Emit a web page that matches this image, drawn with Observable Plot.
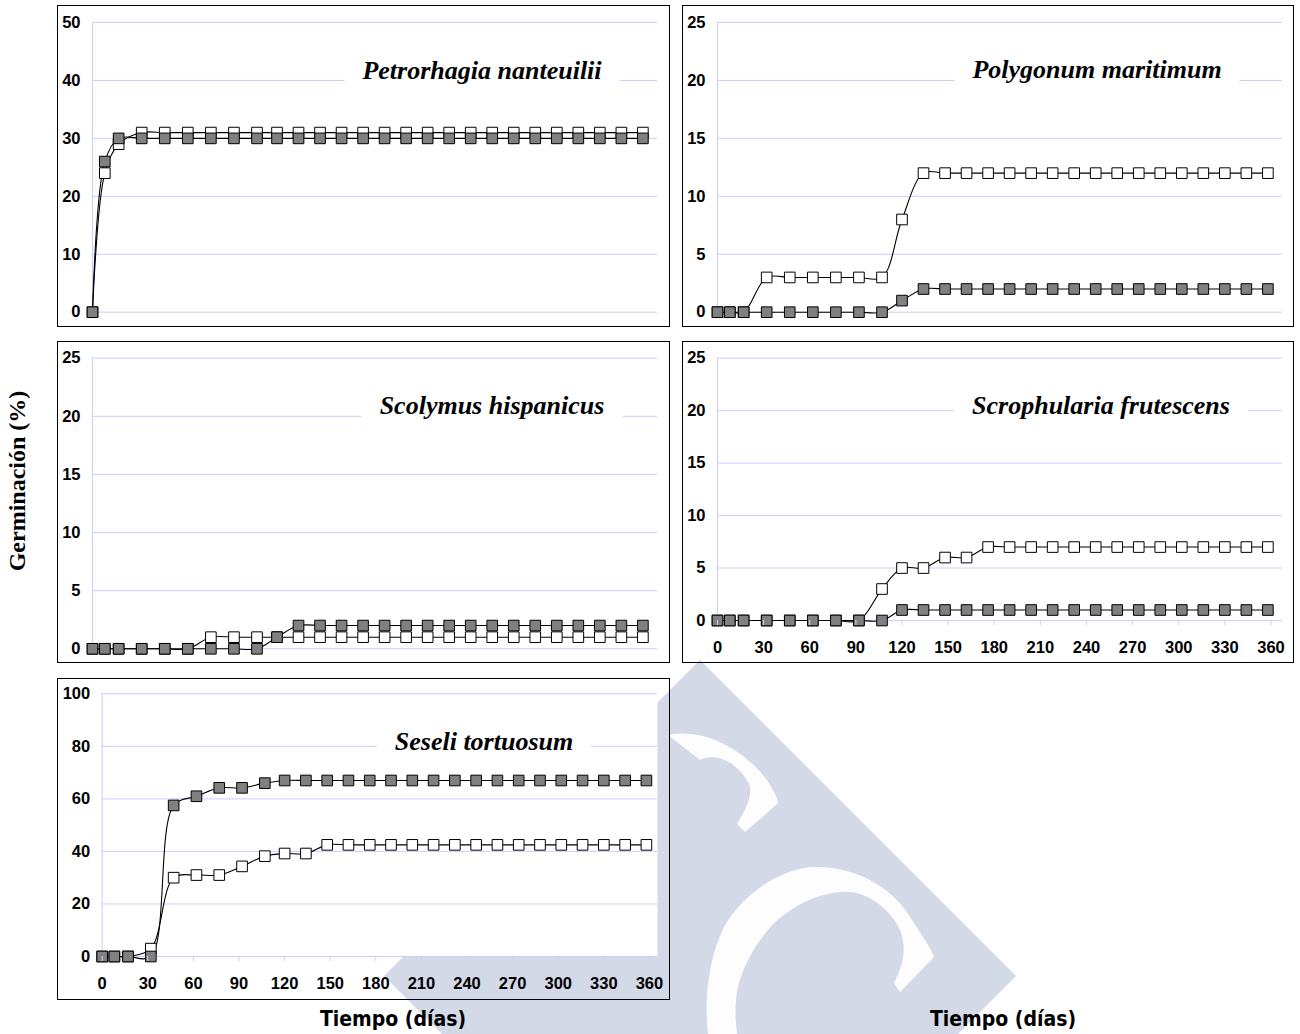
<!DOCTYPE html>
<html>
<head>
<meta charset="utf-8">
<script src="https://cdn.jsdelivr.net/npm/d3@7"></script>
<script src="https://cdn.jsdelivr.net/npm/@observablehq/plot@0.6"></script>
<style>
  html, body { margin: 0; padding: 0; background: #fff; }
  #wrap { position: relative; width: 1300px; height: 1034px; overflow: hidden; background: #fff; }
  #wm { position: absolute; left: 0; top: 0; }
  .plotbox { position: absolute; }
  .plotbox svg { display: block; overflow: visible; }
  .border { position: absolute; border: 1.5px solid #000; box-sizing: border-box; pointer-events: none; }
  .title { position: absolute; font: italic bold 26px "Liberation Serif", "Times New Roman", serif; color: #000;
           background: #fff; padding: 0 18px; line-height: 30px; white-space: nowrap; transform: translateX(-50%); }
  .xlab { position: absolute; font: bold 21px "DejaVu Sans Condensed", "DejaVu Sans", sans-serif; color: #000;
          line-height: normal; white-space: nowrap; transform: translateX(-50%); }
  .ylab { position: absolute; font: bold 24px "Liberation Serif", "Times New Roman", serif; color: #000;
          white-space: nowrap; transform: translate(-50%, -50%) rotate(-90deg); line-height: 1; }
</style>
</head>
<body>
<div id="wrap">
  <!-- faint background watermark (decoration, not data) -->
  <svg id="wm" width="1300" height="1034" viewBox="0 0 1300 1034">
    <polygon points="700,660 1016,976 700,1292 384,976" fill="#d4d9e8"/>
    <path d="M668,735 C700,728 740,745 767,780 C777,795 779,803 777,804 L745,832 L737,824 C752,800 752,790 748,782 C735,760 714,752 700,760 Z" fill="#fdfdfd"/>
    <path d="M708,1034 C704,1000 708,960 724,927 C740,897 780,866 819,867 C860,868 895,890 912,920 C925,940 932,950 934,957 L900,992 L894,983 C905,962 906,945 900,930 C890,908 865,890 843,892 C815,893 790,908 772,925 C752,948 738,975 736,1000 C735,1015 736,1025 737,1034 Z" fill="#fdfdfd"/>
  </svg>
</div>
<script>
// ---------- DATA ----------
const days = [0, 8, 17, 32, 47, 62, 77, 92, 107, 120, 134, 148, 162, 176, 190, 204, 218, 232, 246, 260, 274, 288, 302, 316, 330, 344, 358];
const xTickValues = [0, 30, 60, 90, 120, 150, 180, 210, 240, 270, 300, 330, 360];
const yTicks50 = [0, 10, 20, 30, 40, 50];
const yTicks25 = [0, 5, 10, 15, 20, 25];
const yTicks100 = [0, 20, 40, 60, 80, 100];

const species = ["Petrorhagia nanteuilii", "Polygonum maritimum", "Scolymus hispanicus", "Scrophularia frutescens", "Seseli tortuosum"];

const petrorhagiaBlanco = [0, 24, 29, 31, 31, 31, 31, 31, 31, 31, 31, 31, 31, 31, 31, 31, 31, 31, 31, 31, 31, 31, 31, 31, 31, 31, 31];
const petrorhagiaGris   = [0, 26, 30, 30, 30, 30, 30, 30, 30, 30, 30, 30, 30, 30, 30, 30, 30, 30, 30, 30, 30, 30, 30, 30, 30, 30, 30];

const polygonumBlanco = [0, 0, 0, 3, 3, 3, 3, 3, 3, 8, 12, 12, 12, 12, 12, 12, 12, 12, 12, 12, 12, 12, 12, 12, 12, 12, 12];
const polygonumGris   = [0, 0, 0, 0, 0, 0, 0, 0, 0, 1, 2, 2, 2, 2, 2, 2, 2, 2, 2, 2, 2, 2, 2, 2, 2, 2, 2];

const scolymusBlanco = [0, 0, 0, 0, 0, 0, 1, 1, 1, 1, 1, 1, 1, 1, 1, 1, 1, 1, 1, 1, 1, 1, 1, 1, 1, 1, 1];
const scolymusGris   = [0, 0, 0, 0, 0, 0, 0, 0, 0, 1, 2, 2, 2, 2, 2, 2, 2, 2, 2, 2, 2, 2, 2, 2, 2, 2, 2];

const scrophulariaBlanco = [0, 0, 0, 0, 0, 0, 0, 0, 3, 5, 5, 6, 6, 7, 7, 7, 7, 7, 7, 7, 7, 7, 7, 7, 7, 7, 7];
const scrophulariaGris   = [0, 0, 0, 0, 0, 0, 0, 0, 0, 1, 1, 1, 1, 1, 1, 1, 1, 1, 1, 1, 1, 1, 1, 1, 1, 1, 1];

const seseliBlanco = [0, 0, 0, 3, 30, 31, 31, 34.3, 38.2, 39.2, 39.2, 42.5, 42.5, 42.5, 42.5, 42.5, 42.5, 42.5, 42.5, 42.5, 42.5, 42.5, 42.5, 42.5, 42.5, 42.5, 42.5];
const seseliGris   = [0, 0, 0, 0, 57.5, 61, 64.2, 64.2, 66, 67, 67, 67, 67, 67, 67, 67, 67, 67, 67, 67, 67, 67, 67, 67, 67, 67, 67];

const xAxisTitle = "Tiempo (días)";
const yAxisTitle = "Germinación (%)";

// ---------- LAYOUT ----------
const GRID = "#ccccff";
const GRAY = "#808080";
const panels = [
  {title: species[0], white: petrorhagiaBlanco, gray: petrorhagiaGris, yMax: 50, yTicks: yTicks50,
   left: 57, top: 5, width: 613, height: 322, ml: 35, mr: 13, mt: 17, mb: 15.3, xMax: 367.5, showX: false, tx: 482, tb: 81},
  {title: species[1], white: polygonumBlanco, gray: polygonumGris, yMax: 25, yTicks: yTicks25,
   left: 682, top: 5, width: 612, height: 322, ml: 35, mr: 12, mt: 17, mb: 15.3, xMax: 367.5, showX: false, tx: 1097, tb: 80},
  {title: species[2], white: scolymusBlanco, gray: scolymusGris, yMax: 25, yTicks: yTicks25,
   left: 57, top: 341, width: 613, height: 322, ml: 35, mr: 13, mt: 16.7, mb: 14.7, xMax: 367.5, showX: false, tx: 492, tb: 416},
  {title: species[3], white: scrophulariaBlanco, gray: scrophulariaGris, yMax: 25, yTicks: yTicks25,
   left: 682, top: 341, width: 612, height: 322, ml: 35, mr: 12, mt: 16.7, mb: 43, xMax: 367.5, showX: true, tx: 1101, tb: 416},
  {title: species[4], white: seseliBlanco, gray: seseliGris, yMax: 100, yTicks: yTicks100,
   left: 57, top: 678, width: 613, height: 322, ml: 44.7, mr: 13, mt: 15.3, mb: 44, xMax: 365.3, showX: true, tx: 484, tb: 752}
];

const wrap = document.getElementById("wrap");

for (const p of panels) {
  const rows = days.map((d, i) => ({day: d, blanco: p.white[i], gris: p.gray[i]}));
  const marks = [
    Plot.frame({fill: "white", stroke: null}),
    Plot.gridY(p.yTicks, {stroke: GRID, strokeOpacity: 1, strokeWidth: 1}),
    Plot.ruleX([0], {stroke: GRID, strokeWidth: 1}),
    Plot.axisY(p.yTicks, {tickSize: 0, tickPadding: 12, label: null, fill: "#000"}),
    Plot.line(rows, {x: "day", y: "blanco", curve: "catmull-rom", stroke: "#000", strokeWidth: 1.1}),
    Plot.line(rows, {x: "day", y: "gris", curve: "catmull-rom", stroke: "#000", strokeWidth: 1.1}),
    Plot.dot(rows, {x: "day", y: "blanco", symbol: "square", r: 6, fill: "#fff", stroke: "#000", strokeWidth: 1}),
    Plot.dot(rows, {x: "day", y: "gris", symbol: "square", r: 6, fill: GRAY, stroke: "#000", strokeWidth: 1})
  ];
  if (p.showX) {
    marks.push(Plot.axisX(xTickValues, {tickSize: 5, tickPadding: 16, stroke: GRID, fill: "#000", label: null}));
  }
  const svg = Plot.plot({
    width: p.width, height: p.height,
    marginLeft: p.ml, marginRight: p.mr, marginTop: p.mt, marginBottom: p.mb,
    style: {fontFamily: "'Liberation Sans', Arial, sans-serif", fontSize: "16.5px", fontWeight: "bold", color: "#000", background: "transparent", overflow: "visible"},
    x: {domain: [0, p.xMax], axis: p.showX ? undefined : null},
    y: {domain: [0, p.yMax]},
    marks
  });
  const box = document.createElement("div");
  box.className = "plotbox";
  box.style.left = p.left + "px"; box.style.top = p.top + "px";
  box.appendChild(svg);
  wrap.appendChild(box);

  const border = document.createElement("div");
  border.className = "border";
  border.style.left = p.left + "px"; border.style.top = p.top + "px";
  border.style.width = p.width + "px"; border.style.height = p.height + "px";
  wrap.appendChild(border);

  const t = document.createElement("div");
  t.className = "title";
  t.textContent = p.title;
  t.style.left = p.tx + "px";
  t.style.top = (p.tb - 25) + "px";
  wrap.appendChild(t);
}

for (const cx of [393, 1003]) {
  const l = document.createElement("div");
  l.className = "xlab";
  l.textContent = xAxisTitle;
  l.style.left = cx + "px";
  l.style.top = (1027 - 20) + "px";
  wrap.appendChild(l);
}
const yl = document.createElement("div");
yl.className = "ylab";
yl.textContent = yAxisTitle;
yl.style.left = "17px";
yl.style.top = "481px";
wrap.appendChild(yl);
</script>
</body>
</html>
